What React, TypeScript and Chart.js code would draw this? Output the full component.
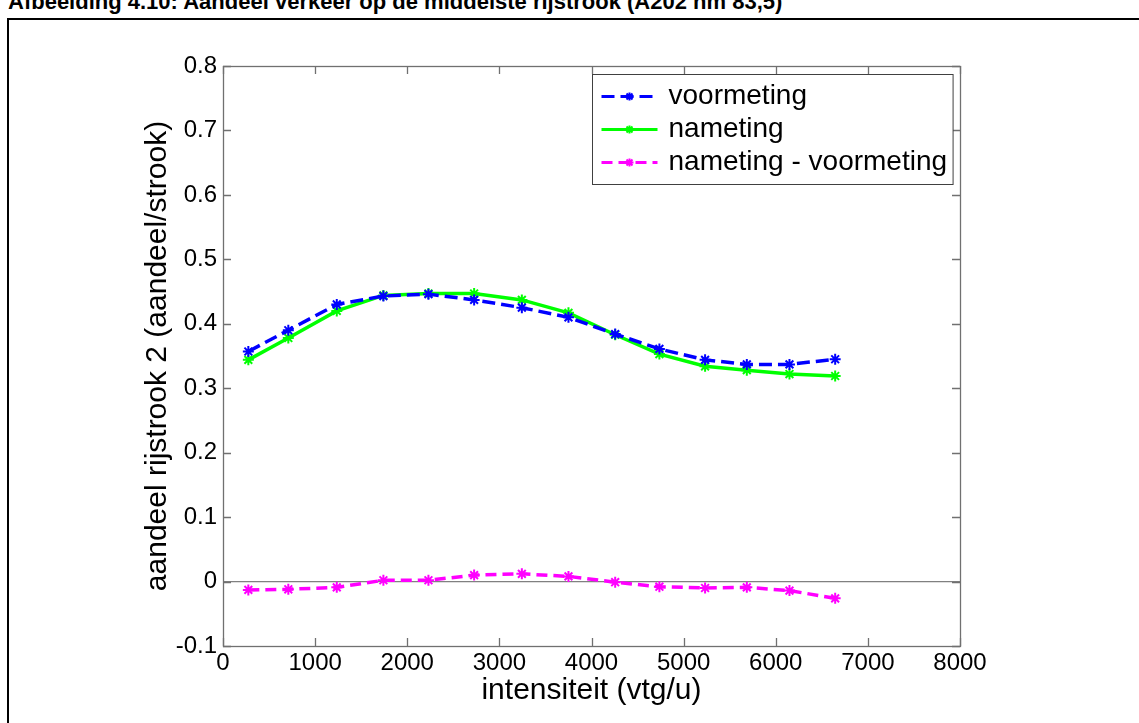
import React, { useEffect, useRef } from 'react';
import { Chart, registerables } from 'chart.js';

Chart.register(...registerables);

const pageTitle = 'Afbeelding 4.10: Aandeel verkeer op de middelste rijstrook (A202 hm 83,5)';
const xTitle = 'intensiteit (vtg/u)';
const yTitle = 'aandeel rijstrook 2 (aandeel/strook)';
const seriesLabels = ['voormeting', 'nameting', 'nameting - voormeting'];

const intensiteit = [275, 709, 1235, 1741, 2230, 2726, 3244, 3750, 4257, 4737, 5233, 5686, 6149, 6645];
const voormeting = [0.357, 0.39, 0.43, 0.443, 0.446, 0.437, 0.425, 0.41, 0.384, 0.361, 0.344, 0.337, 0.337, 0.345];
const nameting = [0.344, 0.378, 0.42, 0.444, 0.447, 0.447, 0.437, 0.417, 0.383, 0.353, 0.334, 0.328, 0.322, 0.319];
const verschil = [-0.013, -0.012, -0.009, 0.002, 0.002, 0.01, 0.012, 0.008, -0.001, -0.008, -0.01, -0.009, -0.014, -0.026];

const xTicks = [0, 1000, 2000, 3000, 4000, 5000, 6000, 7000, 8000];
const yTicks = [-0.1, 0, 0.1, 0.2, 0.3, 0.4, 0.5, 0.6, 0.7, 0.8];

const FONT = '"Liberation Sans", Arial, Helvetica, sans-serif';

const toPoints = (xs: number[], ys: number[]) => xs.map((x, i) => ({ x, y: ys[i] }));

function drawStar(ctx: CanvasRenderingContext2D, x: number, y: number, r: number) {
  ctx.beginPath();
  ctx.moveTo(x - r, y);
  ctx.lineTo(x + r, y);
  ctx.moveTo(x, y - r);
  ctx.lineTo(x, y + r);
  const d = r * 0.75;
  ctx.moveTo(x - d, y - d);
  ctx.lineTo(x + d, y + d);
  ctx.moveTo(x - d, y + d);
  ctx.lineTo(x + d, y - d);
  ctx.stroke();
}

const boxPlugin = {
  id: 'matlabBox',
  afterDraw(chart: any) {
    const { ctx, chartArea } = chart;
    const { left, right, top, bottom } = chartArea;
    const xs = chart.scales.x;
    const ys = chart.scales.y;
    ctx.save();
    ctx.strokeStyle = '#707070';
    ctx.lineWidth = 1.3;
    ctx.strokeRect(left + 0.5, top + 0.5, right - left, bottom - top);
    const tl = 8;
    ctx.beginPath();
    xs.ticks.forEach((t: any) => {
      const px = Math.round(xs.getPixelForValue(t.value)) + 0.5;
      ctx.moveTo(px, bottom);
      ctx.lineTo(px, bottom - tl);
      ctx.moveTo(px, top);
      ctx.lineTo(px, top + tl);
    });
    ys.ticks.forEach((t: any) => {
      const py = Math.round(ys.getPixelForValue(t.value)) + 0.5;
      ctx.moveTo(left, py);
      ctx.lineTo(left + tl, py);
      ctx.moveTo(right, py);
      ctx.lineTo(right - tl, py);
    });
    ctx.stroke();

    // legend
    const fontSize = 28;
    ctx.font = `${fontSize}px ${FONT}`;
    const datasets = chart.data.datasets;
    const textW = Math.max(...datasets.map((d: any) => ctx.measureText(d.label).width));
    const padL = 9;
    const sample = 56;
    const gap = 11;
    const padR = 6;
    const rowH = 33;
    const boxW = padL + sample + gap + textW + padR;
    const boxH = rowH * datasets.length + 11;
    const bx = Math.round(right - 7 - boxW) + 0.5;
    const by = Math.round(top + 8) + 0.5;
    ctx.fillStyle = '#ffffff';
    ctx.fillRect(bx, by, boxW, boxH);
    ctx.strokeStyle = '#404040';
    ctx.lineWidth = 1;
    ctx.strokeRect(bx, by, boxW, boxH);
    datasets.forEach((d: any, i: number) => {
      const cy = by + 22 + i * rowH;
      const x0 = bx + padL;
      ctx.save();
      ctx.strokeStyle = d.borderColor;
      ctx.lineWidth = 3;
      ctx.setLineDash(d.borderDash || []);
      ctx.beginPath();
      ctx.moveTo(x0, cy);
      ctx.lineTo(x0 + sample, cy);
      ctx.stroke();
      ctx.setLineDash([]);
      ctx.lineWidth = 2;
      drawStar(ctx, x0 + sample / 2, cy, 4);
      ctx.restore();
      ctx.fillStyle = '#000000';
      ctx.textBaseline = 'middle';
      ctx.textAlign = 'left';
      ctx.fillText(d.label, x0 + sample + gap, cy);
    });
    ctx.restore();
  },
};

export default function App() {
  const canvasRef = useRef<HTMLCanvasElement | null>(null);

  useEffect(() => {
    const canvas = canvasRef.current;
    if (!canvas) return;
    const colors = ['#0000ff', '#00ff00', '#ff00ff'];
    const dashes = [[13, 6], [], [11, 6]];
    const values = [voormeting, nameting, verschil];
    const chart = new Chart(canvas, {
      type: 'line',
      data: {
        datasets: values.map((v, i) => ({
          label: seriesLabels[i],
          data: toPoints(intensiteit, v),
          borderColor: colors[i],
          backgroundColor: colors[i],
          borderWidth: 3.5,
          borderDash: dashes[i],
          pointStyle: 'star',
          pointRadius: 5.5,
          pointBorderWidth: 2,
          pointBorderColor: colors[i],
          tension: 0,
          fill: false,
        })),
      },
      options: {
        responsive: false,
        animation: false,
        events: [],
        layout: { padding: { left: 0, right: 179, top: 66, bottom: 0 } },
        plugins: {
          legend: { display: false },
          tooltip: { enabled: false },
          title: { display: false },
        },
        scales: {
          x: {
            type: 'linear',
            min: 0,
            max: 8000,
            afterBuildTicks: (s: any) => {
              s.ticks = xTicks.map((v) => ({ value: v }));
            },
            afterFit: (s: any) => {
              s.height = 77;
            },
            ticks: {
              color: '#000',
              padding: 3,
              maxRotation: 0,
              autoSkip: false,
              font: { family: FONT, size: 24 },
              callback: (v: any) => String(v),
            },
            grid: { display: false, drawTicks: false },
            border: { display: false },
            title: {
              display: true,
              text: xTitle,
              color: '#000',
              font: { family: FONT, size: 30 },
              padding: { top: 0, bottom: 14 },
            },
          },
          y: {
            type: 'linear',
            min: -0.1,
            max: 0.8,
            afterBuildTicks: (s: any) => {
              s.ticks = yTicks.map((v) => ({ value: v }));
            },
            afterFit: (s: any) => {
              s.width = 223;
            },
            ticks: {
              color: '#000',
              padding: 6,
              autoSkip: false,
              font: { family: FONT, size: 24 },
              callback: (v: any) => (Math.abs(Number(v)) < 1e-9 ? '0' : Number(v).toFixed(1)),
            },
            grid: {
              drawTicks: false,
              lineWidth: 1.3,
              color: (c: any) => (c.tick && Math.abs(c.tick.value) < 1e-9 ? '#808080' : 'rgba(0,0,0,0)'),
            },
            border: { display: false },
            title: {
              display: true,
              text: yTitle,
              color: '#000',
              font: { family: FONT, size: 30 },
              padding: { top: 140, bottom: 0 },
            },
          },
        },
      },
      plugins: [boxPlugin],
    });
    return () => chart.destroy();
  }, []);

  return (
    <div
      style={{
        position: 'fixed',
        left: 0,
        top: 0,
        width: 1139,
        height: 723,
        overflow: 'hidden',
        background: '#ffffff',
      }}
    >
      <div
        style={{
          position: 'absolute',
          left: 8,
          top: -9,
          whiteSpace: 'nowrap',
          fontFamily: FONT,
          fontWeight: 'bold',
          fontSize: 22,
          lineHeight: '22px',
          color: '#000',
        }}
      >
        {pageTitle}
      </div>
      <div
        style={{
          position: 'absolute',
          left: 7,
          top: 18,
          width: 1200,
          height: 800,
          border: '2px solid #000',
          boxSizing: 'border-box',
        }}
      />
      <canvas
        ref={canvasRef}
        width={1139}
        height={723}
        style={{ position: 'absolute', left: 0, top: 0, display: 'block' }}
      />
    </div>
  );
}
